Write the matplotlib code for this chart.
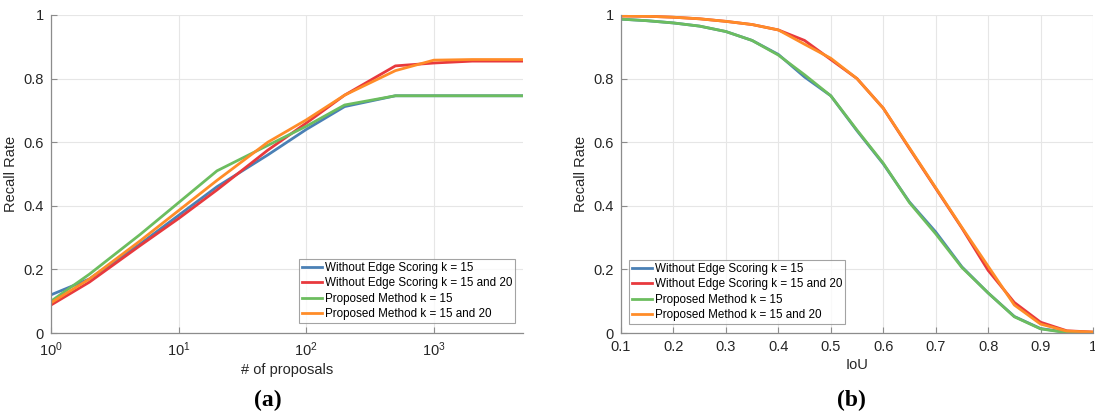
import matplotlib
matplotlib.use("Agg")
import matplotlib.pyplot as plt
import numpy as np

plt.rcParams['font.family'] = ['Liberation Sans', 'DejaVu Sans']
plt.rcParams['mathtext.fontset'] = 'custom'
plt.rcParams['mathtext.rm'] = 'Liberation Sans'
plt.rcParams['mathtext.it'] = 'Liberation Sans'
plt.rcParams['mathtext.default'] = 'regular'

labels = ["Without Edge Scoring k = 15", "Without Edge Scoring k = 15 and 20",
          "Proposed Method k = 15", "Proposed Method k = 15 and 20"]
colors = ["#4a80b5", "#e8393d", "#6cbd5f", "#ff8c28"]

# Panel (a): recall vs number of proposals
proposals = [1, 2, 5, 10, 20, 50, 100, 200, 500, 1000, 2000, 5000]
rec_a_blue = [0.120, 0.170, 0.280, 0.370, 0.460, 0.560, 0.640, 0.712, 0.746, 0.746, 0.746, 0.746]
rec_a_red = [0.088, 0.160, 0.275, 0.360, 0.450, 0.575, 0.660, 0.748, 0.840, 0.849, 0.855, 0.855]
rec_a_green = [0.100, 0.185, 0.310, 0.410, 0.510, 0.590, 0.650, 0.717, 0.746, 0.746, 0.746, 0.746]
rec_a_orange = [0.095, 0.170, 0.290, 0.385, 0.480, 0.600, 0.670, 0.748, 0.825, 0.858, 0.860, 0.860]

# Panel (b): recall vs IoU threshold
iou = [0.10, 0.15, 0.20, 0.25, 0.30, 0.35, 0.40, 0.45, 0.50, 0.55,
       0.60, 0.65, 0.70, 0.75, 0.80, 0.85, 0.90, 0.95, 1.00]
rec_b_blue = [0.987, 0.982, 0.975, 0.965, 0.948, 0.920, 0.876, 0.805, 0.746, 0.636,
              0.532, 0.412, 0.318, 0.208, 0.126, 0.052, 0.014, 0.002, 0.000]
rec_b_red = [0.997, 0.996, 0.993, 0.988, 0.980, 0.970, 0.953, 0.920, 0.860, 0.800,
             0.707, 0.580, 0.455, 0.330, 0.197, 0.096, 0.034, 0.007, 0.003]
rec_b_green = [0.987, 0.982, 0.975, 0.965, 0.948, 0.920, 0.874, 0.812, 0.746, 0.638,
               0.534, 0.410, 0.312, 0.206, 0.126, 0.051, 0.013, 0.001, 0.000]
rec_b_orange = [0.997, 0.996, 0.993, 0.988, 0.980, 0.970, 0.953, 0.908, 0.864, 0.800,
                0.707, 0.582, 0.457, 0.332, 0.210, 0.088, 0.028, 0.006, 0.003]

fig = plt.figure(figsize=(10.95, 4.15), dpi=100)
ax1 = fig.add_axes([51/1095, 1-333/415, (523-51)/1095, (333-15)/415])
ax2 = fig.add_axes([621/1095, 1-333/415, (1093-621)/1095, (333-15)/415])

tc = "#262626"
for ax in (ax1, ax2):
    for s in ("top", "right"):
        ax.spines[s].set_visible(False)
    for s in ("left", "bottom"):
        ax.spines[s].set_color("#8c8c8c")
        ax.spines[s].set_linewidth(0.9)
    ax.tick_params(direction="in", length=4, width=0.8, color="#8c8c8c",
                   labelcolor=tc, labelsize=10.5, pad=5)
    ax.tick_params(which="minor", length=0)
    ax.grid(True, color="#e6e6e6", linewidth=0.8)
    ax.set_axisbelow(True)
    ax.set_ylim(0, 1)
    ax.set_yticks([0, 0.2, 0.4, 0.6, 0.8, 1])
    ax.set_yticklabels(["0", "0.2", "0.4", "0.6", "0.8", "1"])
    ax.set_ylabel("Recall Rate", fontsize=10.5, color=tc, labelpad=4)

leg_kw = dict(fontsize=8.4, frameon=True, fancybox=False, handlelength=1.75,
              handletextpad=0.2, borderpad=0.25, labelspacing=0.3, borderaxespad=0)

lw = 2.0
for ys, c, l in zip([rec_a_blue, rec_a_red, rec_a_green, rec_a_orange], colors, labels):
    ax1.plot(proposals, ys, color=c, lw=lw, label=l)
ax1.set_xscale("log")
ax1.set_xlim(1, 5000)
ax1.set_xticks([1, 10, 100, 1000])
ax1.set_xticklabels(["$10^{0}$", "$10^{1}$", "$10^{2}$", "$10^{3}$"])
ax1.minorticks_off()
ax1.set_xlabel("# of proposals", fontsize=10.5, color=tc, labelpad=3)
leg1 = ax1.legend(loc="lower right", bbox_to_anchor=(0.983, 0.031), **leg_kw)
leg1.get_frame().set_edgecolor("#8c8c8c")
leg1.get_frame().set_linewidth(0.8)

for ys, c, l in zip([rec_b_blue, rec_b_red, rec_b_green, rec_b_orange], colors, labels):
    ax2.plot(iou, ys, color=c, lw=lw, label=l)
ax2.set_xlim(0.1, 1)
ax2.set_xticks([0.1, 0.2, 0.3, 0.4, 0.5, 0.6, 0.7, 0.8, 0.9, 1.0])
ax2.set_xticklabels(["0.1", "0.2", "0.3", "0.4", "0.5", "0.6", "0.7", "0.8", "0.9", "1"])
ax2.set_xlabel("IoU", fontsize=10.5, color=tc, labelpad=3)
leg2 = ax2.legend(loc="lower left", bbox_to_anchor=(0.017, 0.028), **leg_kw)
leg2.get_frame().set_edgecolor("#8c8c8c")
leg2.get_frame().set_linewidth(0.8)

fig.text(268/1095, 1-400/415, "(a)", ha="center", va="center", fontsize=17,
         fontweight="bold", family=["Liberation Serif", "DejaVu Serif"])
fig.text(851/1095, 1-400/415, "(b)", ha="center", va="center", fontsize=17,
         fontweight="bold", family=["Liberation Serif", "DejaVu Serif"])

fig.savefig("out.png", dpi=100)
